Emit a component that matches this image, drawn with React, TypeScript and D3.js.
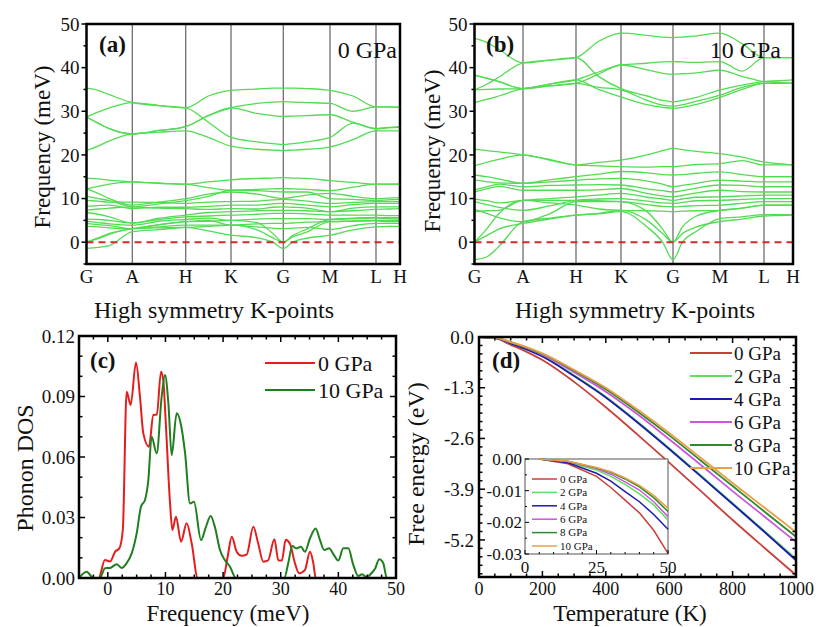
import React from 'react';
import * as d3 from 'd3';

const FONT = "'Liberation Serif', 'Times New Roman', Times, serif";

// ---------------- (a), (b) phonon dispersion ----------------
const K_LABELS = ['G', 'A', 'H', 'K', 'G', 'M', 'L', 'H'];
const K_SAMPLES = [0, 0.25, 0.5, 1, 1.5, 2, 2.5, 3, 3.5, 3.8, 4, 4.2, 4.5, 5, 5.5, 6, 6.5, 7];
const FREQ_TICKS = [0, 10, 20, 30, 40, 50];
const FREQ_MINOR = [-5, 5, 15, 25, 35, 45];

const BANDS_0GPA: number[][] = [
  [35.3, 34.8, 33.8, 32, 31.3, 30.8, 33.5, 34.8, 35.1, 35.3, 35.3, 35.3, 35.2, 34.8, 33.5, 31, 31, 30.9],
  [28.7, 29.8, 30.8, 32, 31.3, 30.8, 27.5, 24, 23, 22.6, 22.4, 22.6, 23, 24, 27.3, 26, 26.3, 26.5],
  [28.7, 27.3, 26, 24.8, 25.6, 26.5, 29, 30.8, 31.8, 32.1, 32.2, 32.1, 32, 31.8, 30, 31, 31, 30.9],
  [21, 22, 23.2, 24.8, 25.2, 25.5, 24, 22, 21.3, 21.1, 21, 21.1, 21.3, 21.8, 23.5, 25.5, 25.5, 25.5],
  [28.7, 27.3, 26, 24.8, 25.6, 26.5, 29, 30.8, 29.5, 29, 28.8, 28.9, 29, 29.2, 27.5, 26, 26.2, 26.3],
  [14.7, 14.5, 14.2, 13.8, 13.5, 13.3, 13.8, 14.3, 14.6, 14.7, 14.8, 14.7, 14.6, 14.1, 13.7, 13.3, 13.3, 13.3],
  [12.2, 12.8, 13.3, 13.8, 13.5, 13.3, 12.5, 11.9, 12.1, 12.2, 12.3, 12.2, 12.1, 11.8, 12.6, 13.3, 13.3, 13.3],
  [12.2, 11.2, 10, 8.5, 9.2, 10, 11, 11.5, 11, 10.3, 10, 10.3, 10.8, 11.2, 10.5, 10, 10.1, 10.2],
  [10.5, 10, 9.5, 8.1, 8.8, 9.5, 10.5, 11.9, 11.8, 11.6, 11.5, 11.5, 11.5, 10, 9.8, 9.6, 9.7, 9.8],
  [9.6, 9.4, 9.2, 9.2, 9.1, 8.9, 9.2, 9.3, 9.4, 9.7, 9.8, 9.7, 9.4, 8.9, 9.1, 9.3, 9.3, 9.3],
  [8.2, 8.4, 8.5, 7.7, 8, 8, 8.2, 8.5, 8.5, 8.8, 8.9, 8.8, 8.5, 8.1, 8.6, 8.9, 8.9, 8.9],
  [7.3, 7.6, 7.8, 8.1, 7.8, 7.7, 7.5, 7.7, 7.6, 8, 8.1, 8, 7.8, 7, 7.8, 8.1, 8.1, 8.1],
  [6.8, 6.4, 5.8, 4.4, 5.5, 6.2, 6.8, 7, 7.2, 7.3, 7.3, 7.3, 7.2, 7, 7.2, 7.5, 7.6, 7.7],
  [5.3, 5.2, 5, 4.4, 5.2, 5.8, 6, 6.2, 6.4, 6.6, 6.6, 6.6, 6.5, 6.2, 6.2, 6.2, 6.1, 6.1],
  [4.8, 4.5, 4.2, 3.9, 4.8, 5.2, 5.5, 5, 5.3, 5.4, 5.4, 5.4, 5.4, 5.2, 5.5, 5.7, 5.6, 5.6],
  [4.3, 4, 3.8, 3.1, 4, 4.7, 5, 3.9, 4.2, 4.3, 4.3, 4.4, 4.6, 4.7, 4.9, 5, 5, 5],
  [3.6, 3.5, 3.3, 3.1, 3.5, 3.9, 3.9, 3.9, 3.5, 3.2, 3.1, 3.2, 3.4, 2.9, 3.8, 4.3, 4.3, 4.3],
  [-1.4, -1.2, -0.8, 2.4, 2.9, 3.4, 3.6, 3.9, 2.8, 1, 0, 1.2, 2.3, 4.7, 4.8, 4.9, 4.7, 4.7],
  [0, 1, 2, 3.1, 4, 4.7, 4.8, 5, 4.5, 2, 0, 1.5, 3, 5.2, 5.4, 5.5, 5.4, 5.3],
  [0, 0.8, 1.8, 3.1, 3.3, 3.4, 2.6, 1.6, 1, 0, -1.45, 0, 0.9, 1.6, 2.8, 3.5, 3.6, 3.6],
];

const BANDS_10GPA: number[][] = [
  [46.7, 45.8, 44.2, 41.1, 41.7, 42.3, 46, 47.9, 47.4, 47, 46.9, 47, 47.3, 47.9, 45.5, 42.3, 42.3, 42.3],
  [34.9, 36.2, 37.8, 41.1, 41.7, 42.3, 38, 35.2, 33.5, 32.5, 32.2, 32.5, 33.2, 34.9, 36, 36.8, 37, 37.2],
  [38.3, 37.6, 36.8, 35.2, 36.2, 37.2, 39, 40.6, 41, 41.3, 41.4, 41.3, 41.2, 41.4, 39.2, 42.3, 42.3, 42.3],
  [32, 32.7, 33.5, 35.2, 35.8, 36.4, 38.5, 40.6, 39.5, 38.7, 38.5, 38.6, 38.8, 39.4, 38, 36.8, 36.6, 36.4],
  [38.3, 37.6, 36.8, 35.2, 35.8, 36.4, 35.5, 34.9, 32.5, 31.4, 31.2, 31.5, 32.3, 33.7, 35.5, 36.4, 36.4, 36.4],
  [34.9, 35, 35.1, 35.2, 36.2, 37.2, 35, 33.3, 31.5, 30.9, 30.7, 30.9, 31.6, 33.2, 35, 36.4, 36.4, 36.4],
  [21.3, 21, 20.7, 20, 19, 17.7, 18.3, 18.8, 20, 21, 21.5, 21.2, 20.8, 20.3, 19.5, 18.4, 18, 17.7],
  [17.5, 18.3, 19, 20, 18.8, 17.7, 17.5, 17.3, 17.2, 17.3, 17.3, 17.5, 17.8, 18, 18.7, 17.7, 17.7, 17.7],
  [15.4, 15, 14.5, 13.5, 14.3, 15, 15.6, 16.2, 15.9, 15.5, 15.4, 15.5, 15.8, 16.1, 15.5, 15, 15, 15],
  [14.3, 13.9, 13.6, 13.5, 13.8, 14.2, 14.5, 14.6, 14, 13.3, 12.7, 13, 13.5, 14.2, 14, 13.8, 13.8, 13.8],
  [12, 12.7, 13.3, 12.7, 13, 13.1, 13.2, 13.1, 12.2, 11.8, 11.5, 11.8, 12.4, 13.1, 13, 12.7, 12.7, 12.7],
  [11.5, 12.2, 12.8, 11.9, 11.9, 11.9, 12, 12.3, 11.2, 10.6, 10.4, 10.7, 11.3, 11.9, 11.6, 11.5, 11.5, 11.5],
  [9.8, 9.5, 9, 9.6, 10, 10.4, 10.8, 11.2, 10.3, 9.9, 9.6, 9.9, 10.3, 10.4, 10.6, 10.8, 10.8, 10.8],
  [9.3, 8.6, 8, 7.3, 8.3, 9.6, 9.9, 10, 9.4, 9, 8.9, 9.1, 9.5, 9.6, 9.8, 10, 10, 10],
  [7.5, 6.6, 5.6, 4.7, 6.5, 9.3, 9.3, 9.3, 8.6, 8.2, 8.1, 8.2, 8.4, 8.5, 8.9, 9.3, 9.3, 9.3],
  [7, 7.2, 7.3, 9.6, 9, 8.5, 7.6, 7.3, 7.2, 7.1, 7, 7.1, 7.2, 7.3, 7.8, 8.5, 8.5, 8.5],
  [0, 3, 6.5, 9.6, 9.6, 9.6, 9.5, 9.3, 7, 3, 0, 3.5, 6, 7.3, 7.8, 8.5, 8.5, 8.5],
  [0, 1.5, 3, 4.3, 5.3, 6.2, 6.6, 7.3, 5, 2, 0, 2, 3.5, 4.7, 5.3, 6, 6.1, 6.2],
  [-4, -3.4, -1, 4.7, 5.5, 6.2, 6.5, 7, 3.5, 0, -4, 0, 2.5, 5.4, 5.8, 6.3, 6.3, 6.3],
];

// ---------------- (c) phonon DOS ----------------
const DOS_FREQ_0GPA = [-2.5, -1.6, -0.5, 0.4, 1.25, 2, 2.6, 3.27, 3.96, 4.89, 5.58, 6.16, 7.14, 7.9, 8.5, 9.23, 9.63, 10, 10.8, 11.2, 11.83, 12.7, 13.68, 14.55, 15.6, 20, 20.8, 21.5, 22.36, 23.2, 24.1, 25.24, 26.1, 26.98, 27.8, 28.9, 29.6, 30.2, 30.86, 31.6, 32.47, 33.2, 34.2, 35.08, 35.66, 36.07, 45];
const DOS_0GPA = [0, 0, 0.0089, 0.0082, 0.013, 0.0147, 0.0238, 0.0924, 0.0858, 0.1068, 0.0899, 0.0717, 0.0651, 0.0808, 0.081, 0.1023, 0.098, 0.08, 0.037, 0.0238, 0.0304, 0.018, 0.0271, 0.0172, 0, 0, 0.0107, 0.0205, 0.013, 0.011, 0.0116, 0.0254, 0.017, 0.0081, 0.0087, 0.0192, 0.0087, 0.0087, 0.019, 0.017, 0.0073, 0.0023, 0.004, 0.013, 0.0073, 0, 0];
const DOS_FREQ_10GPA = [-5, -3.67, -2.5, -1.4, -0.49, 0.38, 1.54, 2.4, 3.27, 4.14, 5, 5.76, 6.45, 7.03, 7.6, 8.48, 9.34, 9.92, 10.5, 11.08, 11.95, 12.7, 13.4, 14.26, 14.95, 16.17, 16.98, 17.85, 18.6, 19.46, 20.3, 21.2, 22.24, 30.62, 31.3, 32, 32.7, 33.5, 34.2, 35.08, 36.06, 36.8, 37.56, 38.4, 39.1, 40, 40.85, 41.72, 42.58, 43.45, 44.1, 44.9, 45.78, 46.36, 47.1, 47.8, 48.4, 49];
const DOS_10GPA = [0, 0.0031, 0, 0, 0.0048, 0.005, 0.0068, 0.005, 0.0074, 0.0122, 0.022, 0.0354, 0.0387, 0.0486, 0.0701, 0.0618, 0.0899, 0.1007, 0.087, 0.061, 0.0817, 0.0759, 0.062, 0.037, 0.0378, 0.0188, 0.025, 0.0307, 0.025, 0.0139, 0.0089, 0.0056, 0, 0, 0.0073, 0.0159, 0.0147, 0.0155, 0.013, 0.0197, 0.0246, 0.0189, 0.0139, 0.0147, 0.012, 0.0087, 0.0147, 0.0147, 0.0066, 0.001, 0.0018, 0.0005, 0.0025, 0.0046, 0.0093, 0.0073, 0, 0];
const DOS_X_TICKS = [0, 10, 20, 30, 40, 50];
const DOS_Y_TICKS = [0, 0.03, 0.06, 0.09, 0.12];
const DOS_SERIES = ['0 GPa', '10 GPa'];

// ---------------- (d) free energy ----------------
const PRESSURES = ['0 GPa', '2 GPa', '4 GPa', '6 GPa', '8 GPa', '10 GPa'];
const FE_TEMPS = [0, 50, 100, 150, 200, 300, 400, 500, 600, 700, 800, 900, 1000];
const FE_0GPA = [0, -0.03, -0.2, -0.38, -0.59, -1.15, -1.8, -2.5, -3.22, -3.95, -4.69, -5.4, -6.1];
const FE_2GPA = [0, -0.02, -0.16, -0.31, -0.49, -0.98, -1.53, -2.17, -2.85, -3.55, -4.26, -4.97, -5.68];
const FE_4GPA = [0, -0.025, -0.165, -0.32, -0.5, -1.0, -1.55, -2.19, -2.87, -3.57, -4.28, -4.99, -5.72];
const FE_6GPA = [0, -0.018, -0.14, -0.28, -0.45, -0.9, -1.4, -1.98, -2.62, -3.28, -3.95, -4.6, -5.25];
const FE_8GPA = [0, -0.016, -0.13, -0.27, -0.43, -0.86, -1.34, -1.91, -2.52, -3.17, -3.82, -4.47, -5.12];
const FE_10GPA = [0, -0.015, -0.13, -0.26, -0.42, -0.84, -1.3, -1.86, -2.46, -3.1, -3.74, -4.37, -5.0];
const FE_X_TICKS = [0, 200, 400, 600, 800, 1000];
const FE_Y_TICKS = [0, -1.3, -2.6, -3.9, -5.2];

const INSET_TEMPS = [5, 15, 25, 30, 35, 40, 45, 50];
const INSET_0GPA = [0, -0.0015, -0.0055, -0.009, -0.013, -0.017, -0.0225, -0.0298];
const INSET_2GPA = [0, -0.001, -0.0035, -0.0055, -0.008, -0.011, -0.0145, -0.0193];
const INSET_4GPA = [0, -0.0012, -0.0045, -0.007, -0.0103, -0.0135, -0.0175, -0.0222];
const INSET_6GPA = [0, -0.0008, -0.003, -0.0048, -0.0072, -0.0098, -0.0135, -0.0182];
const INSET_8GPA = [0, -0.0007, -0.0028, -0.0042, -0.0063, -0.0088, -0.0122, -0.0166];
const INSET_10GPA = [0, -0.0007, -0.0027, -0.004, -0.006, -0.0083, -0.0115, -0.0156];
const INSET_X_TICKS = [0, 25, 50];
const INSET_Y_TICKS = [0, -0.01, -0.02, -0.03];

const FE_COLORS = ['#c8403a', '#5fe05f', '#1c1ca8', '#cc55dd', '#2e8a2e', '#e8a045'];
const DOS_COLORS = ['#e41e1e', '#1f7f1f'];
const BAND_COLOR = '#52dc52';

type Frame = { x0: number; x1: number; y0: number; y1: number };

function BandPanel(props: {
  id: string; bands: number[][]; f: Frame; kPos: number[]; tag: string; press: string;
  tagX: number; pressX: number; titleX: number; yTitleX: number; yTitleY: number;
}) {
  const { id, bands, f, kPos } = props;
  const kx = d3.scaleLinear().domain([0, 1, 2, 3, 4, 5, 6, 7]).range(kPos);
  const y = d3.scaleLinear().domain([-5, 50]).range([f.y1, f.y0]);
  const line = d3.line<number>().x((_, i) => kx(K_SAMPLES[i])).y((d) => y(d)).curve(d3.curveMonotoneX);
  return (
    <g>
      <defs>
        <clipPath id={id}><rect x={f.x0} y={f.y0} width={f.x1 - f.x0} height={f.y1 - f.y0} /></clipPath>
      </defs>
      {kPos.slice(1, 7).map((x, i) => (
        <line key={i} x1={x} x2={x} y1={f.y0} y2={f.y1} stroke="#6e6e6e" strokeWidth={1.3} />
      ))}
      <g clipPath={`url(#${id})`}>
        {bands.map((b, i) => (
          <path key={i} d={line(b) || ''} fill="none" stroke={BAND_COLOR} strokeWidth={1.3} />
        ))}
      </g>
      <line x1={f.x0} x2={f.x1} y1={y(0)} y2={y(0)} stroke="#d42a2a" strokeWidth={2} strokeDasharray="7,5" />
      <rect x={f.x0} y={f.y0} width={f.x1 - f.x0} height={f.y1 - f.y0} fill="none" stroke="#000" strokeWidth={2.5} />
      {FREQ_TICKS.map((t) => (
        <g key={t}>
          <line x1={f.x0 - 5} x2={f.x0} y1={y(t)} y2={y(t)} stroke="#000" strokeWidth={1.5} />
          <text x={f.x0 - 7} y={y(t)} dy="0.35em" textAnchor="end" fontSize={19}>{t}</text>
        </g>
      ))}
      {FREQ_MINOR.map((t) => (
        <line key={t} x1={f.x0 - 3} x2={f.x0} y1={y(t)} y2={y(t)} stroke="#000" strokeWidth={1.5} />
      ))}
      {K_LABELS.map((l, i) => (
        <text key={i} x={kPos[i]} y={283} textAnchor="middle" fontSize={19}>{l}</text>
      ))}
      <text x={props.titleX} y={318} textAnchor="middle" fontSize={24}>High symmetry K-points</text>
      <text transform={`translate(${props.yTitleX},${props.yTitleY}) rotate(-90)`} textAnchor="middle" fontSize={23}>Frequency (meV)</text>
      <text x={props.tagX} y={52} fontSize={23} fontWeight="bold">{props.tag}</text>
      <text x={props.pressX} y={58} textAnchor="end" fontSize={24}>{props.press}</text>
    </g>
  );
}

function InwardTicks(props: { f: Frame; xs: d3.ScaleLinear<number, number>; ys: d3.ScaleLinear<number, number>; xMajor: number[]; xMinor: number[]; yMajor: number[]; yMinor: number[]; maj?: number; min?: number; sw?: number; sides?: number }) {
  const { f, xs, ys } = props;
  const M = props.maj ?? 6, m = props.min ?? 3.5, sw = props.sw ?? 1.5;
  const all = props.sides !== 2;
  const out: any[] = [];
  const add = (vals: number[], len: number, tag: string) => {
    vals.forEach((v, i) => {
      const x = xs(v);
      out.push(<line key={`b${tag}${i}`} x1={x} x2={x} y1={f.y1} y2={f.y1 - len} stroke="#000" strokeWidth={sw} />);
      if (all) out.push(<line key={`t${tag}${i}`} x1={x} x2={x} y1={f.y0} y2={f.y0 + len} stroke="#000" strokeWidth={sw} />);
    });
  };
  const addY = (vals: number[], len: number, tag: string) => {
    vals.forEach((v, i) => {
      const y = ys(v);
      out.push(<line key={`l${tag}${i}`} x1={f.x0} x2={f.x0 + len} y1={y} y2={y} stroke="#000" strokeWidth={sw} />);
      if (all) out.push(<line key={`r${tag}${i}`} x1={f.x1} x2={f.x1 - len} y1={y} y2={y} stroke="#000" strokeWidth={sw} />);
    });
  };
  add(props.xMajor, M, 'M'); add(props.xMinor, m, 'm');
  addY(props.yMajor, M, 'M'); addY(props.yMinor, m, 'm');
  return <g>{out}</g>;
}

function range(a: number, b: number, step: number) {
  const r: number[] = [];
  for (let v = a; v <= b + 1e-9; v += step) r.push(+v.toFixed(6));
  return r;
}

export default function App() {
  // (c)
  const fc: Frame = { x0: 79, x1: 396, y0: 336, y1: 578 };
  const xC = d3.scaleLinear().domain([-5, 50]).range([fc.x0, fc.x1]);
  const yC = d3.scaleLinear().domain([0, 0.12]).range([fc.y1, fc.y0]);
  const dosLine = (fs: number[], vs: number[]) =>
    d3.line<number>().x((_, i) => xC(fs[i])).y((v) => yC(v)).curve(d3.curveMonotoneX)(vs) || '';

  // (d)
  const fd: Frame = { x0: 479, x1: 796, y0: 337, y1: 577 };
  const xD = d3.scaleLinear().domain([0, 1000]).range([fd.x0, fd.x1]);
  const yD = d3.scaleLinear().domain([-6.15, 0]).range([fd.y1, fd.y0]);
  const feLine = d3.line<number>().x((_, i) => xD(FE_TEMPS[i])).y((v) => yD(v)).curve(d3.curveMonotoneX);
  const feSeries = [FE_0GPA, FE_2GPA, FE_4GPA, FE_6GPA, FE_8GPA, FE_10GPA];

  const fi: Frame = { x0: 525, x1: 668, y0: 459, y1: 554 };
  const xI = d3.scaleLinear().domain([0, 50]).range([fi.x0, fi.x1]);
  const yI = d3.scaleLinear().domain([-0.03, 0]).range([fi.y1, fi.y0]);
  const inLine = d3.line<number>().x((_, i) => xI(INSET_TEMPS[i])).y((v) => yI(v));
  const inSeries = [INSET_0GPA, INSET_2GPA, INSET_4GPA, INSET_6GPA, INSET_8GPA, INSET_10GPA];

  const dMinorY = range(0, 6.15, 1.3 / 6).map((v) => -v).filter((v) => !FE_Y_TICKS.some((t) => Math.abs(t - v) < 1e-6));

  return (
    <svg width={816} height={627} style={{ position: 'absolute', left: 0, top: 0, background: '#fff', fontFamily: FONT }}>
      <style>{`text { font-family: 'Liberation Serif', 'Times New Roman', Times, serif; fill: #111; }`}</style>
      <rect x={0} y={0} width={816} height={627} fill="#fff" />
      <BandPanel id="clipA" bands={BANDS_0GPA} f={{ x0: 86.5, x1: 400, y0: 24, y1: 264 }}
        kPos={[86.5, 132.3, 185.7, 231, 283.3, 330, 376, 400]} tag="(a)" press="0 GPa"
        tagX={99} pressX={397} titleX={214} yTitleX={50} yTitleY={147} />
      <BandPanel id="clipB" bands={BANDS_10GPA} f={{ x0: 474.5, x1: 793, y0: 24, y1: 264 }}
        kPos={[474.5, 523, 576, 621, 673, 720, 764, 793]} tag="(b)" press="10 GPa"
        tagX={486} pressX={781} titleX={635} yTitleX={440} yTitleY={151} />

      {/* (c) */}
      <g>
        <path d={dosLine(DOS_FREQ_0GPA, DOS_0GPA)} fill="none" stroke={DOS_COLORS[0]} strokeWidth={2} />
        <path d={dosLine(DOS_FREQ_10GPA, DOS_10GPA)} fill="none" stroke={DOS_COLORS[1]} strokeWidth={2} />
        <rect x={fc.x0} y={fc.y0} width={fc.x1 - fc.x0} height={fc.y1 - fc.y0} fill="none" stroke="#000" strokeWidth={2.5} />
        <InwardTicks f={fc} xs={xC} ys={yC} xMajor={DOS_X_TICKS} xMinor={range(-5, 50, 2.5).filter((v) => v % 10 !== 0 && v > -5 && v < 50)}
          yMajor={DOS_Y_TICKS} yMinor={range(0, 0.12, 0.01).filter((v) => !DOS_Y_TICKS.some((t) => Math.abs(t - v) < 1e-6))} />
        {DOS_X_TICKS.map((t) => (
          <text key={t} x={xC(t)} y={595} textAnchor="middle" fontSize={18}>{t}</text>
        ))}
        {DOS_Y_TICKS.map((t) => (
          <text key={t} x={fc.x0 - 4} y={yC(t)} dy="0.35em" textAnchor="end" fontSize={19}>{t.toFixed(2)}</text>
        ))}
        <text x={228} y={621} textAnchor="middle" fontSize={23}>Frequency (meV)</text>
        <text transform="translate(33,468) rotate(-90)" textAnchor="middle" fontSize={24}>Phonon DOS</text>
        <text x={90} y={368} fontSize={23} fontWeight="bold">(c)</text>
        {DOS_SERIES.map((s, i) => (
          <g key={s}>
            <line x1={265} x2={315} y1={363 + i * 27} y2={363 + i * 27} stroke={DOS_COLORS[i]} strokeWidth={2} />
            <text x={318} y={363 + i * 27} dy="0.35em" fontSize={22}>{s}</text>
          </g>
        ))}
      </g>

      {/* (d) */}
      <g>
        {feSeries.map((s, i) => (
          <path key={i} d={feLine(s) || ''} fill="none" stroke={FE_COLORS[i]} strokeWidth={1.8} />
        ))}
        <rect x={fd.x0} y={fd.y0} width={fd.x1 - fd.x0} height={fd.y1 - fd.y0} fill="none" stroke="#000" strokeWidth={2.5} />
        <InwardTicks f={fd} xs={xD} ys={yD} xMajor={FE_X_TICKS} xMinor={range(0, 1000, 50).filter((v) => v % 200 !== 0)}
          yMajor={FE_Y_TICKS} yMinor={dMinorY} />
        {FE_X_TICKS.map((t) => (
          <text key={t} x={xD(t)} y={595} textAnchor="middle" fontSize={18}>{t}</text>
        ))}
        {FE_Y_TICKS.map((t) => (
          <text key={t} x={fd.x0 - 5} y={yD(t)} dy="0.35em" textAnchor="end" fontSize={19}>{t === 0 ? '0.0' : t.toFixed(1)}</text>
        ))}
        <text x={630} y={621} textAnchor="middle" fontSize={23}>Temperature (K)</text>
        <text transform="translate(424,464) rotate(-90)" textAnchor="middle" fontSize={24}>Free energy (eV)</text>
        <text x={492} y={368} fontSize={23} fontWeight="bold">(d)</text>
        {PRESSURES.map((p, i) => (
          <g key={p}>
            <line x1={690} x2={732} y1={353 + i * 23} y2={353 + i * 23} stroke={FE_COLORS[i]} strokeWidth={2} />
            <text x={734} y={353 + i * 23} dy="0.35em" fontSize={19}>{p}</text>
          </g>
        ))}

        {/* inset */}
        <rect x={fi.x0} y={fi.y0} width={fi.x1 - fi.x0} height={fi.y1 - fi.y0} fill="#fff" stroke="#555" strokeWidth={1} />
        {inSeries.map((s, i) => (
          <path key={i} d={inLine(s) || ''} fill="none" stroke={FE_COLORS[i]} strokeWidth={1.5} />
        ))}
        <InwardTicks f={fi} xs={xI} ys={yI} xMajor={INSET_X_TICKS} xMinor={[5, 10, 15, 20, 30, 35, 40, 45]}
          yMajor={INSET_Y_TICKS} yMinor={[-0.005, -0.015, -0.025]} maj={4} min={2} sw={1} sides={2} />
        {INSET_X_TICKS.map((t) => (
          <text key={t} x={xI(t)} y={573} textAnchor="middle" fontSize={17}>{t}</text>
        ))}
        {INSET_Y_TICKS.map((t) => (
          <text key={t} x={fi.x0 - 3} y={yI(t)} dy="0.35em" textAnchor="end" fontSize={17}>{t === 0 ? '0.00' : t.toFixed(2)}</text>
        ))}
        {PRESSURES.map((p, i) => (
          <g key={p}>
            <line x1={532} x2={557} y1={479 + i * 13.4} y2={479 + i * 13.4} stroke={FE_COLORS[i]} strokeWidth={1.5} />
            <text x={560} y={479 + i * 13.4} dy="0.35em" fontSize={11}>{p}</text>
          </g>
        ))}
      </g>
    </svg>
  );
}
